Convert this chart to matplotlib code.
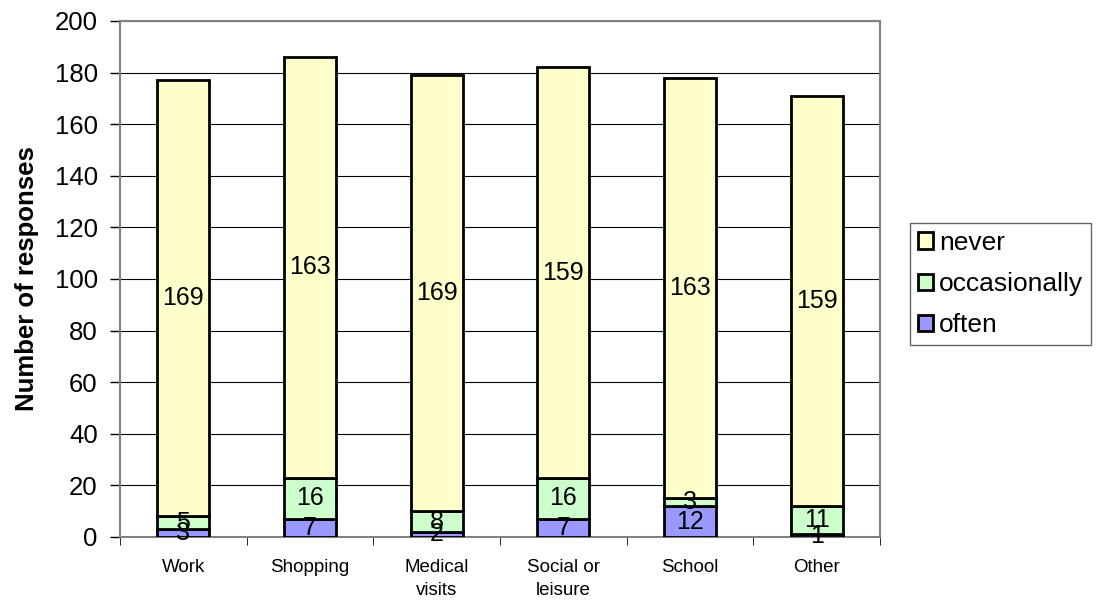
import matplotlib
matplotlib.use("Agg")
import matplotlib.pyplot as plt
import numpy as np

categories = ["Work", "Shopping", "Medical\nvisits", "Social or\nleisure", "School", "Other"]
often = [3, 7, 2, 7, 12, 1]
occasionally = [5, 16, 8, 16, 3, 11]
never = [169, 163, 169, 159, 163, 159]
yticks = list(range(0, 201, 20))

plt.rcParams['font.family'] = ['Liberation Sans', 'DejaVu Sans']

fig = plt.figure(figsize=(11, 6.1), dpi=100)
ax = fig.add_axes([0.109, 0.1197, 0.691, 0.846])

x = np.arange(len(categories))
w = 0.41
series = [("often", often, "#9999FF"), ("occasionally", occasionally, "#CCFFCC"), ("never", never, "#FFFFCC")]
bottom = np.zeros(len(categories))
handles = []
for name, vals, col in series:
    b = ax.bar(x, vals, w, bottom=bottom, color=col, edgecolor="black", linewidth=2, label=name, zorder=3)
    handles.append(b)
    for xi, v, bt in zip(x, vals, bottom):
        ax.text(xi, bt + v / 2, str(v), ha="center", va="center", fontsize=18, zorder=4)
    bottom += np.array(vals)

ax.set_xlim(-0.5, len(categories) - 0.5)
ax.set_ylim(0, 200)
ax.set_yticks(yticks)
ax.set_yticklabels([str(t) for t in yticks], fontsize=18.5)
ax.set_xticks(x)
ax.set_xticklabels(categories, fontsize=13.5, linespacing=1.45)
ax.set_xticks(np.arange(-0.5, len(categories), 1), minor=True)
ax.tick_params(axis="x", which="major", length=0, pad=16)
ax.tick_params(axis="x", which="minor", length=6, direction="out", color="black")
ax.tick_params(axis="y", length=7, direction="out", width=1, pad=9)
ax.yaxis.grid(True, color="black", linewidth=0.8, zorder=0)
ax.set_axisbelow(True)
for s in ["top", "right", "left", "bottom"]:
    ax.spines[s].set_color("#808080")
    ax.spines[s].set_linewidth(1.5)
ax.set_ylabel("Number of responses", fontsize=18.5, fontweight="bold", labelpad=11)

leg = fig.legend(handles[::-1], ["never", "occasionally", "often"], loc="center left",
                 bbox_to_anchor=(0.827, 0.534), fontsize=19, frameon=True, fancybox=False,
                 edgecolor="#404040", handlelength=0.6, handleheight=0.6, handletextpad=0.2,
                 borderpad=0.3, labelspacing=0.65, borderaxespad=0)
leg.get_frame().set_linewidth(1)

fig.savefig("out.png", dpi=100, facecolor="white")
